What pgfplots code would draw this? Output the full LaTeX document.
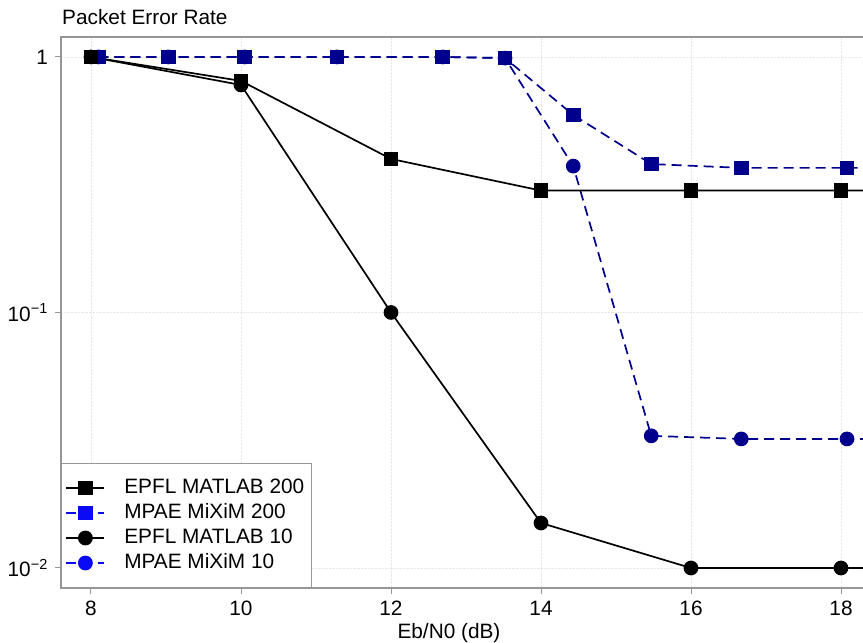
\documentclass[border=0pt]{standalone}
\usepackage{fontspec}
\setmainfont{Liberation Sans}
\usepackage{pgfplots}
\pgfplotsset{compat=1.18}
\definecolor{plotblue}{RGB}{0,0,140}
\definecolor{legblue}{RGB}{10,10,245}
\definecolor{axgray}{RGB}{150,150,150}
\newcommand{\fs}{\fontsize{20.8bp}{24bp}\selectfont}
\begin{document}
\fs
\begin{tikzpicture}
\begin{axis}[
  name=ax, at={(0,0)}, anchor=south west,
  scale only axis, width=812bp, height=551bp,
  xmin=7.6, xmax=18.4267,
  ymode=log, ymin=0.00835, ymax=1.197,
  xtick={8,10,12,14,16,18},
  ytick={0.01,0.1,1},
  yticklabels={10\textsuperscript{−2},10\textsuperscript{−1},1},
  /pgf/number format/assume math mode=true,
  minor tick style={draw=none},
  tick pos=left, tick align=outside, major tick length=6bp,
  tick style={axgray, line width=1bp},
  axis line style={axgray, line width=1.2bp},
  grid=major, grid style={densely dotted, gray!18, line width=0.8bp},
  ticklabel style={font=\fs},
  xlabel={Eb/N0 (dB)},
  xlabel style={at={(rel axis cs:0.4778,0)}, anchor=base, yshift=-50bp, inner sep=0pt, font=\fs},
  title={Packet Error Rate},
  title style={at={(rel axis cs:0,1)}, anchor=base west, yshift=7bp, xshift=1bp, inner sep=0pt, font=\fs},
  legend style={at={(rel axis cs:0,0)}, anchor=south west, draw=axgray, line width=1bp, fill=white,
    inner xsep=4bp, inner ysep=12bp, row sep=0pt, column sep=16bp,
    nodes={inner sep=3bp, text height=15bp, text depth=4bp}, font=\fs},
  legend cell align=left,
  legend image code/.code={\draw[mark repeat=2,mark phase=2,#1] plot coordinates {(0bp,0bp) (19bp,0bp) (38bp,0bp)};},
]
\addlegendimage{black, line width=1.8bp, mark=square*, mark size=6.5bp}
\addlegendentry{EPFL MATLAB 200}
\addlegendimage{legblue, line width=1.8bp, dash pattern=on 10bp off 6bp, mark=square*, mark size=6.5bp, mark options={solid}}
\addlegendentry{MPAE MiXiM 200}
\addlegendimage{black, line width=1.8bp, mark=*, mark size=6.5bp}
\addlegendentry{EPFL MATLAB 10}
\addlegendimage{legblue, line width=1.8bp, dash pattern=on 10bp off 6bp, mark=*, mark size=6.5bp, mark options={solid}}
\addlegendentry{MPAE MiXiM 10}

% MPAE MiXiM 200
\addplot[forget plot, plotblue, line width=1.7bp, dash pattern=on 10bp off 6bp, mark=square*, mark size=6.5bp, mark options={solid}]
coordinates {(8.1,1) (9.03,1) (10.05,1) (11.28,1) (12.69,1) (13.52,0.99) (14.43,0.593) (15.47,0.381) (16.67,0.368) (18.08,0.368) (19.5,0.368)};
% MPAE MiXiM 10
\addplot[forget plot, plotblue, line width=1.7bp, dash pattern=on 10bp off 6bp, mark=*, mark size=6.5bp, mark options={solid}]
coordinates {(8.1,1) (9.03,1) (10.05,1) (11.28,1) (12.69,1) (13.52,0.99) (14.43,0.374) (15.47,0.0329) (16.67,0.0320) (18.08,0.0320) (19.5,0.0318)};
% EPFL MATLAB 10
\addplot[forget plot, black, line width=1.7bp, mark=*, mark size=6.5bp]
coordinates {(8,1) (10,0.777) (12,0.1) (14,0.0150) (16,0.01) (18,0.01) (20,0.01)};
% EPFL MATLAB 200
\addplot[forget plot, black, line width=1.7bp, mark=square*, mark size=6.5bp]
coordinates {(8,1) (10,0.806) (12,0.399) (14,0.30) (16,0.30) (18,0.30) (20,0.30)};
\end{axis}
\pgfresetboundingbox
\path (ax.south west) ++(-61bp,-55bp) rectangle ++(863bp,643bp);
\end{tikzpicture}
\end{document}
